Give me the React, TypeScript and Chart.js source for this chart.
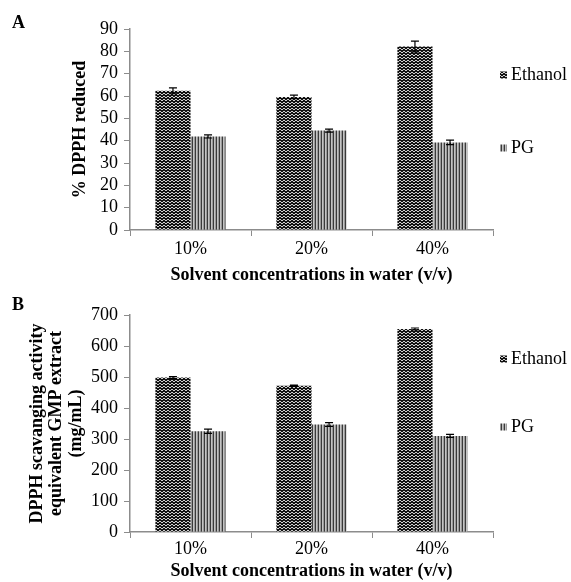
import React, { useEffect, useRef } from 'react';
import { Chart, registerables } from 'chart.js';
Chart.register(...registerables);

const FONT = "'Liberation Serif', 'Times New Roman', serif";
const FS = 18;

const categories = ['10%', '20%', '40%'];
const seriesNames = ['Ethanol', 'PG'];
const xTitle = 'Solvent concentrations in water (v/v)';

// Panel A
const ethanolA = [62.3, 59.6, 82.2];
const ethanolAErr = [1.3, 0.8, 2.4];
const pgA = [41.9, 44.5, 39.2];
const pgAErr = [0.7, 0.7, 1.0];
const yTitleA = '% DPPH reduced';
const yMaxA = 90;
const yStepA = 10;

// Panel B
const ethanolB = [498, 472, 655];
const ethanolBErr = [3, 2, 3];
const pgB = [325, 347, 310];
const pgBErr = [7, 6, 5];
const yTitleB = ['DPPH scavanging activity', 'equivalent GMP extract', '(mg/mL)'];
const yMaxB = 700;
const yStepB = 100;

function makePatterns(ctx: CanvasRenderingContext2D) {
  const t1 = document.createElement('canvas');
  t1.width = 4; t1.height = 3;
  const c1 = t1.getContext('2d')!;
  c1.fillStyle = '#111';
  c1.fillRect(0, 0, 4, 3);
  c1.fillStyle = '#cfcfcf';
  c1.fillRect(0, 0, 1, 1);
  c1.fillRect(1, 1, 1, 1);
  c1.fillRect(2, 1, 1, 1);
  c1.fillRect(3, 0, 1, 1);
  const t2 = document.createElement('canvas');
  t2.width = 3; t2.height = 1;
  const c2 = t2.getContext('2d')!;
  c2.fillStyle = '#3a3a3a'; c2.fillRect(0, 0, 1, 1);
  c2.fillStyle = '#c4c4c4'; c2.fillRect(1, 0, 1, 1);
  c2.fillStyle = '#9a9a9a'; c2.fillRect(2, 0, 1, 1);
  return [ctx.createPattern(t1, 'repeat')!, ctx.createPattern(t2, 'repeat')!];
}

type PanelProps = {
  top: number;
  height: number;
  letter: string;
  letterY: number;
  eth: number[];
  ethErr: number[];
  pg: number[];
  pgErr: number[];
  yTitle: string | string[];
  yMax: number;
  yStep: number;
  padLeft: number;
  padTop: number;
  padBottom: number;
  xHeight: number;
  xTickPad: number;
  legendDy: number[];
};

function Panel(p: PanelProps) {
  const ref = useRef<HTMLCanvasElement>(null);
  useEffect(() => {
    const canvas = ref.current!;
    const ctx = canvas.getContext('2d')!;
    const patterns = makePatterns(ctx);
    const errs = [p.ethErr, p.pgErr];
    const axisColor = '#8c8c8c';
    const plugin = {
      id: 'extras',
      afterDatasetsDraw(chart: any) {
        const c = chart.ctx;
        const ys = chart.scales.y;
        c.save();
        c.strokeStyle = '#000';
        c.lineWidth = 1.2;
        chart.data.datasets.forEach((ds: any, i: number) => {
          const meta = chart.getDatasetMeta(i);
          meta.data.forEach((bar: any, j: number) => {
            const v = ds.data[j];
            const e = errs[i][j];
            const x = bar.x;
            const y1 = ys.getPixelForValue(v + e);
            const y2 = ys.getPixelForValue(v - e);
            c.beginPath();
            c.moveTo(x, y1); c.lineTo(x, y2);
            c.moveTo(x - 4, y1); c.lineTo(x + 4, y1);
            c.moveTo(x - 4, y2); c.lineTo(x + 4, y2);
            c.stroke();
          });
        });
        c.restore();
      },
      afterDraw(chart: any) {
        const c = chart.ctx;
        const area = chart.chartArea;
        c.save();
        seriesNames.forEach((name, i) => {
          const y = area.top + p.legendDy[i];
          c.fillStyle = patterns[i];
          c.fillRect(500, y - 3.5, 7, 7);
          c.fillStyle = '#000';
          c.font = `${FS}px ${FONT}`;
          c.textBaseline = 'middle';
          c.textAlign = 'left';
          c.fillText(name, 511, y);
        });
        c.font = `bold ${FS}px ${FONT}`;
        c.fillStyle = '#000';
        c.textBaseline = 'middle';
        c.fillText(p.letter, 12, p.letterY);
        c.restore();
      },
    };
    const chart = new Chart(canvas, {
      type: 'bar',
      data: {
        labels: categories,
        datasets: [
          { label: seriesNames[0], data: p.eth, backgroundColor: patterns[0], borderWidth: 0, categoryPercentage: 0.58, barPercentage: 1.0 },
          { label: seriesNames[1], data: p.pg, backgroundColor: patterns[1], borderWidth: 0, categoryPercentage: 0.58, barPercentage: 1.0 },
        ],
      },
      options: {
        responsive: false,
        animation: false,
        layout: { padding: { left: p.padLeft, right: 78, top: p.padTop, bottom: p.padBottom } },
        plugins: { legend: { display: false }, tooltip: { enabled: false } },
        scales: {
          x: {
            grid: { display: true, drawOnChartArea: false, drawTicks: true, tickLength: 6, color: axisColor, offset: true },
            border: { color: axisColor, width: 1.5 },
            ticks: { color: '#000', font: { family: FONT, size: FS }, padding: p.xTickPad, autoSkip: false, maxRotation: 0 },
            title: { display: true, text: xTitle, color: '#000', font: { family: FONT, size: FS, weight: 'bold', lineHeight: 1.2 }, padding: 0 },
            afterFit: (s: any) => { s.height = p.xHeight; },
          },
          y: {
            min: 0,
            max: p.yMax,
            ticks: { stepSize: p.yStep, color: '#000', font: { family: FONT, size: FS, lineHeight: 1 }, padding: 6, autoSkip: false },
            grid: { display: true, drawOnChartArea: false, drawTicks: true, tickLength: 6, color: axisColor },
            border: { color: axisColor, width: 1.5 },
            title: { display: true, text: p.yTitle, color: '#000', font: { family: FONT, size: FS, weight: 'bold', lineHeight: 1.1 }, padding: 0 },
            afterFit: (s: any) => { s.width = 130 - p.padLeft; },
          },
        },
      } as any,
      plugins: [plugin],
    });
    return () => chart.destroy();
  }, []);
  return (
    <canvas
      ref={ref}
      width={571}
      height={p.height}
      style={{ position: 'absolute', left: 0, top: p.top, width: 571, height: p.height }}
    />
  );
}

export default function App() {
  return (
    <div style={{ position: 'absolute', left: 0, top: 0, width: 571, height: 582, background: '#fff' }}>
      <Panel
        top={0} height={290} letter="A" letterY={23}
        eth={ethanolA} ethErr={ethanolAErr} pg={pgA} pgErr={pgAErr}
        yTitle={yTitleA} yMax={yMaxA} yStep={yStepA}
        padLeft={70} padTop={29} padBottom={4} xHeight={56} xTickPad={2}
        legendDy={[46, 119]}
      />
      <Panel
        top={290} height={292} letter="B" letterY={15}
        eth={ethanolB} ethErr={ethanolBErr} pg={pgB} pgErr={pgBErr}
        yTitle={yTitleB} yMax={yMaxB} yStep={yStepB}
        padLeft={27} padTop={25} padBottom={0} xHeight={50} xTickPad={0}
        legendDy={[44, 112]}
      />
    </div>
  );
}
